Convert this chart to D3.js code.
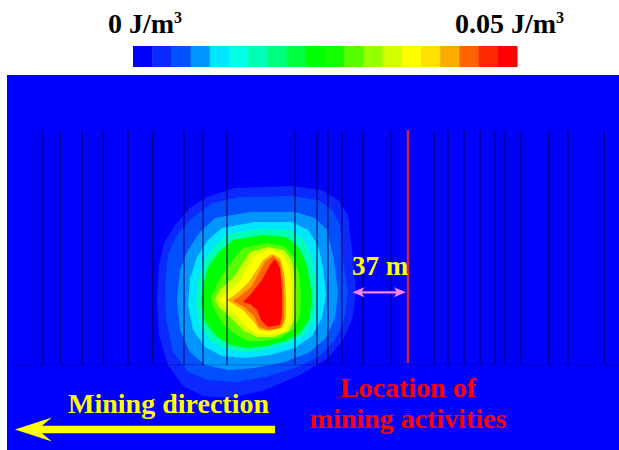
<!DOCTYPE html>
<html>
<head>
<meta charset="utf-8">
<script src="https://cdn.jsdelivr.net/npm/d3@7"></script>
<style>
  html, body { margin: 0; padding: 0; background: #ffffff; }
  svg { display: block; }
  text { font-family: "Liberation Serif", "Times New Roman", serif; font-weight: bold; }
</style>
</head>
<body>
<script>
// ---- colour map: 20 bands from 0 to 0.05 J/m3 ----
const bandColors = [
  "#0000ff", "#0a28ff", "#0050ff", "#0096ff", "#00e6ff",
  "#00ffe6", "#00ffb4", "#00ff80", "#00ff40", "#00ff00",
  "#14ff00", "#55ff00", "#96ff00", "#d2ff00", "#ffff00",
  "#ffe100", "#ffaa00", "#ff6400", "#ff2800", "#ff0000"
];
const energyMin = 0;
const energyMax = 0.05;
const bandStep = 0.0025;
const colorbarLabels = ["0 J/m", "0.05 J/m"];

// ---- energy density isolines (J/m3) and their outlines [x m, y m] ----
const contourLevels = [0.0025, 0.005, 0.0075, 0.01, 0.015, 0.0225, 0.0275, 0.0325, 0.035, 0.04, 0.0425, 0.0475];

const contour1 = [[133.3,81.3],[152,75.3],[188.7,74],[210,76.7],[220.7,83.3],[227.3,93.3],[230,116.7],[232.7,144.7],[230,163.3],[224,176.7],[214,188.7],[195.3,200],[172,210],[148.7,215.3],[130.7,214],[117.3,207.3],[107.3,193.3],[101.3,173.3],[100,150],[101.3,126.7],[104.7,112],[112,100],[122,88.7]];
const contour2 = [[136.7,85.3],[155.3,81.3],[188.7,80.7],[207.3,83.3],[216.7,90],[222,100],[224,123.3],[227.3,144.7],[224.7,163.3],[218.7,176.7],[208.7,187.3],[192,195.3],[172,201.3],[152,204.7],[134,203.3],[120.7,198],[110.7,184.7],[106,163.3],[105.3,140],[107.3,120],[113.3,106.7],[123.3,95.3]];
const contour3 = [[138.7,95.3],[162,91.3],[192,91.3],[205.3,95.3],[213.3,103.3],[217.3,120],[220.7,144.7],[218.7,162],[212.7,175.3],[202,184.7],[185.3,191.3],[165.3,195.3],[147.3,196.7],[132,193.3],[122,184.7],[115.3,170],[113.3,150],[115.3,130],[120.7,116.7],[128.7,104.7]];
const contour4 = [[143.3,102],[165.3,98],[190,98],[200.7,103.3],[207.3,113.3],[210.7,128.7],[212.7,146.7],[210,162],[203.3,174],[192,182],[175.3,186.7],[158.7,188.7],[143.3,187.3],[132,181.3],[124,170],[120.7,153.3],[122,135.3],[126.7,121.3],[134,110]];
const contour5 = [[147.3,106],[167.3,102.7],[188,103.3],[197.3,109.3],[202.7,119.3],[205.3,132.7],[206.7,148],[204.7,163.3],[198,173.3],[188,178.7],[174,182.7],[159.3,184.7],[146,182.7],[136,177.3],[128.7,167.3],[126,153.3],[127.3,137.3],[131.3,124],[138,114.7]];
const contour6 = [[150.7,110],[170,106.7],[186,108],[194.7,115.3],[199.3,125.3],[202,137.3],[203.3,150],[201.3,163.3],[194.7,172.7],[185.3,177.3],[172.7,180.7],[160,182],[148.7,180],[139.3,174],[132,164.7],[129.3,152],[130.7,139.3],[134.7,126.7],[142,117.3]];
const contour7 = [[157.3,115.3],[172.7,112],[184.7,114],[191.3,121.3],[194.7,132.7],[196,146.7],[195.3,160.7],[190.7,170],[182,175.3],[170.7,177.3],[160.7,177.3],[152.7,173.3],[144,166],[137.3,154.7],[136,148],[140.7,138],[148,126.7]];
const contour8 = [[162,118],[174,114.7],[184.7,116.7],[190,124],[192,136],[192.7,150],[192,162],[188,170.7],[178,174.7],[166.7,174.7],[158,170.7],[150.7,163.3],[141.3,154.7],[138.7,149.3],[142,143.3],[151.3,134.7]];
const contour9 = [[165.3,120],[175.3,116.7],[183.3,119.3],[188,127.3],[190,139.3],[190,153.3],[189.3,164],[185.3,171.3],[176,173.3],[166.7,172.7],[160,168],[153.3,160.7],[145.3,153.3],[141.3,150],[147.3,144.7],[155.3,137.3]];
const contour10 = [[170.7,123.3],[176.7,119.3],[182,122],[184.7,131.3],[186,146.7],[186,162],[183.3,168.7],[175.3,170.7],[168.7,170],[164,164],[157.3,156.7],[150,152],[146.7,150],[152.7,146],[160.7,138.7]];
const contour11 = [[172,124.7],[177.3,120.7],[182,124.7],[184,136.7],[184.7,150],[184.7,163.3],[182,168.7],[174,170],[168,168],[164.7,160.7],[158,154.7],[150.7,150.7],[155.3,147.3],[162.7,141.3]];
const contour12 = [[175.3,126.7],[178.7,122.7],[182,128.7],[183.3,143.3],[183.3,160],[182,166.7],[174,168],[169.3,163.3],[166.7,156.7],[162,152.7],[157.3,151.3],[162,146.7],[170,136.7]];
const contourRings = [contour1, contour2, contour3, contour4, contour5, contour6,
                      contour7, contour8, contour9, contour10, contour11, contour12];

// ---- monitoring lines (x position, m) and their vertical extent (m) ----
const sectionLinesX = [24, 35.3, 50, 64, 80.7, 97.3, 118, 130.7, 146.7, 192, 206.7, 214,
                       223.3, 237.3, 256, 284.7, 294, 304.7, 315.3, 325.3, 332, 342.7,
                       361.3, 374, 398];
const sectionTop = 36.7;
const sectionBottom = 193.3;

// ---- mining face and distance to the energy zone ----
const miningFaceX = 267.3;
const faceDistance = 37;

// ---- layout ----
const width = 619, height = 450;
const svg = d3.select("body").append("svg")
  .attr("width", width).attr("height", height);

const x = d3.scaleLinear().domain([0, 408]).range([7, 619]);
const y = d3.scaleLinear().domain([0, 250]).range([75, 450]);
const colorOf = v => bandColors[Math.round((v - energyMin) / bandStep)];

const defs = svg.append("defs");
defs.append("filter").attr("id", "soft")
  .append("feGaussianBlur").attr("stdDeviation", 0.7);

// model background
svg.append("rect")
  .attr("x", x(0)).attr("y", y(0))
  .attr("width", x(408) - x(0)).attr("height", y(250) - y(0))
  .attr("fill", bandColors[0]);

// filled energy density contours, lowest level first
const ring = d3.line().x(d => x(d[0])).y(d => y(d[1])).curve(d3.curveLinearClosed);
svg.append("g").selectAll("path")
  .data(contourRings.map((pts, i) => ({ pts, level: contourLevels[i] })))
  .join("path")
  .attr("d", d => ring(d.pts))
  .attr("fill", d => colorOf(d.level));

// monitoring lines
const lines = svg.append("g").attr("filter", "url(#soft)");
lines.selectAll("line")
  .data(sectionLinesX)
  .join("line")
  .attr("x1", d => x(d)).attr("x2", d => x(d))
  .attr("y1", y(sectionTop)).attr("y2", y(sectionBottom))
  .attr("stroke", "#000058").attr("stroke-width", 1.8).attr("stroke-opacity", 0.6);
lines.append("line")
  .attr("x1", x(0)).attr("x2", x(408))
  .attr("y1", y(sectionBottom)).attr("y2", y(sectionBottom))
  .attr("stroke", "#000058").attr("stroke-width", 1.2).attr("stroke-opacity", 0.25);

// mining face
svg.append("line")
  .attr("x1", x(miningFaceX)).attr("x2", x(miningFaceX))
  .attr("y1", y(sectionTop)).attr("y2", y(sectionBottom - 1.3))
  .attr("stroke", "#d81c48").attr("stroke-width", 2.4);

// distance arrow (both ends)
const ay = y(144.9);
const ax0 = x(miningFaceX - faceDistance), ax1 = x(miningFaceX) - 2;
const pink = "#fa82f5";
svg.append("line")
  .attr("x1", ax0 + 6).attr("x2", ax1 - 6).attr("y1", ay).attr("y2", ay)
  .attr("stroke", pink).attr("stroke-width", 2.2);
svg.append("path")
  .attr("d", `M${ax0},${ay} L${ax0 + 12},${ay - 5} L${ax0 + 9},${ay} L${ax0 + 12},${ay + 5} Z`)
  .attr("fill", pink);
svg.append("path")
  .attr("d", `M${ax1},${ay} L${ax1 - 12},${ay - 5} L${ax1 - 9},${ay} L${ax1 - 12},${ay + 5} Z`)
  .attr("fill", pink);
svg.append("text")
  .attr("x", x(miningFaceX - faceDistance / 2)).attr("y", y(133.3))
  .attr("text-anchor", "middle").attr("font-size", 27).attr("fill", "#ffff00")
  .text(`${faceDistance} m`);

// mining direction arrow
const yx0 = x(5.3), yx1 = x(178.7), yy = y(236.3);
svg.append("path")
  .attr("d", `M${yx0},${yy} L${yx0 + 37},${yy - 12} L${yx0 + 27},${yy - 3.8} L${yx1},${yy - 3.8}
              L${yx1},${yy + 3.8} L${yx0 + 27},${yy + 3.8} L${yx0 + 37},${yy + 12} Z`)
  .attr("fill", "#ffff00");
svg.append("text")
  .attr("x", x(40.7)).attr("y", y(225.3))
  .attr("font-size", 28).attr("fill", "#ffff00")
  .text("Mining direction");

// mining face label
const faceLabel = svg.append("text")
  .attr("text-anchor", "middle").attr("font-size", 28).attr("fill", "#ff0000");
faceLabel.append("tspan").attr("x", x(miningFaceX)).attr("y", y(214.7)).text("Location of");
faceLabel.append("tspan").attr("x", x(miningFaceX)).attr("y", y(235.3)).text("mining activities");

// colour bar
const bar = d3.scaleBand().domain(d3.range(bandColors.length)).range([133, 517]);
svg.append("g").selectAll("rect")
  .data(bandColors)
  .join("rect")
  .attr("x", (d, i) => bar(i)).attr("y", 46)
  .attr("width", bar.bandwidth() + 0.5).attr("height", 21)
  .attr("fill", d => d);

[[colorbarLabels[0], 108], [colorbarLabels[1], 455]].forEach(([label, lx]) => {
  const t = svg.append("text").attr("x", lx).attr("y", 33)
    .attr("font-size", 28).attr("fill", "#000000");
  t.append("tspan").text(label);
  t.append("tspan").attr("dy", -10).attr("font-size", 16).text("3");
});
</script>
</body>
</html>
